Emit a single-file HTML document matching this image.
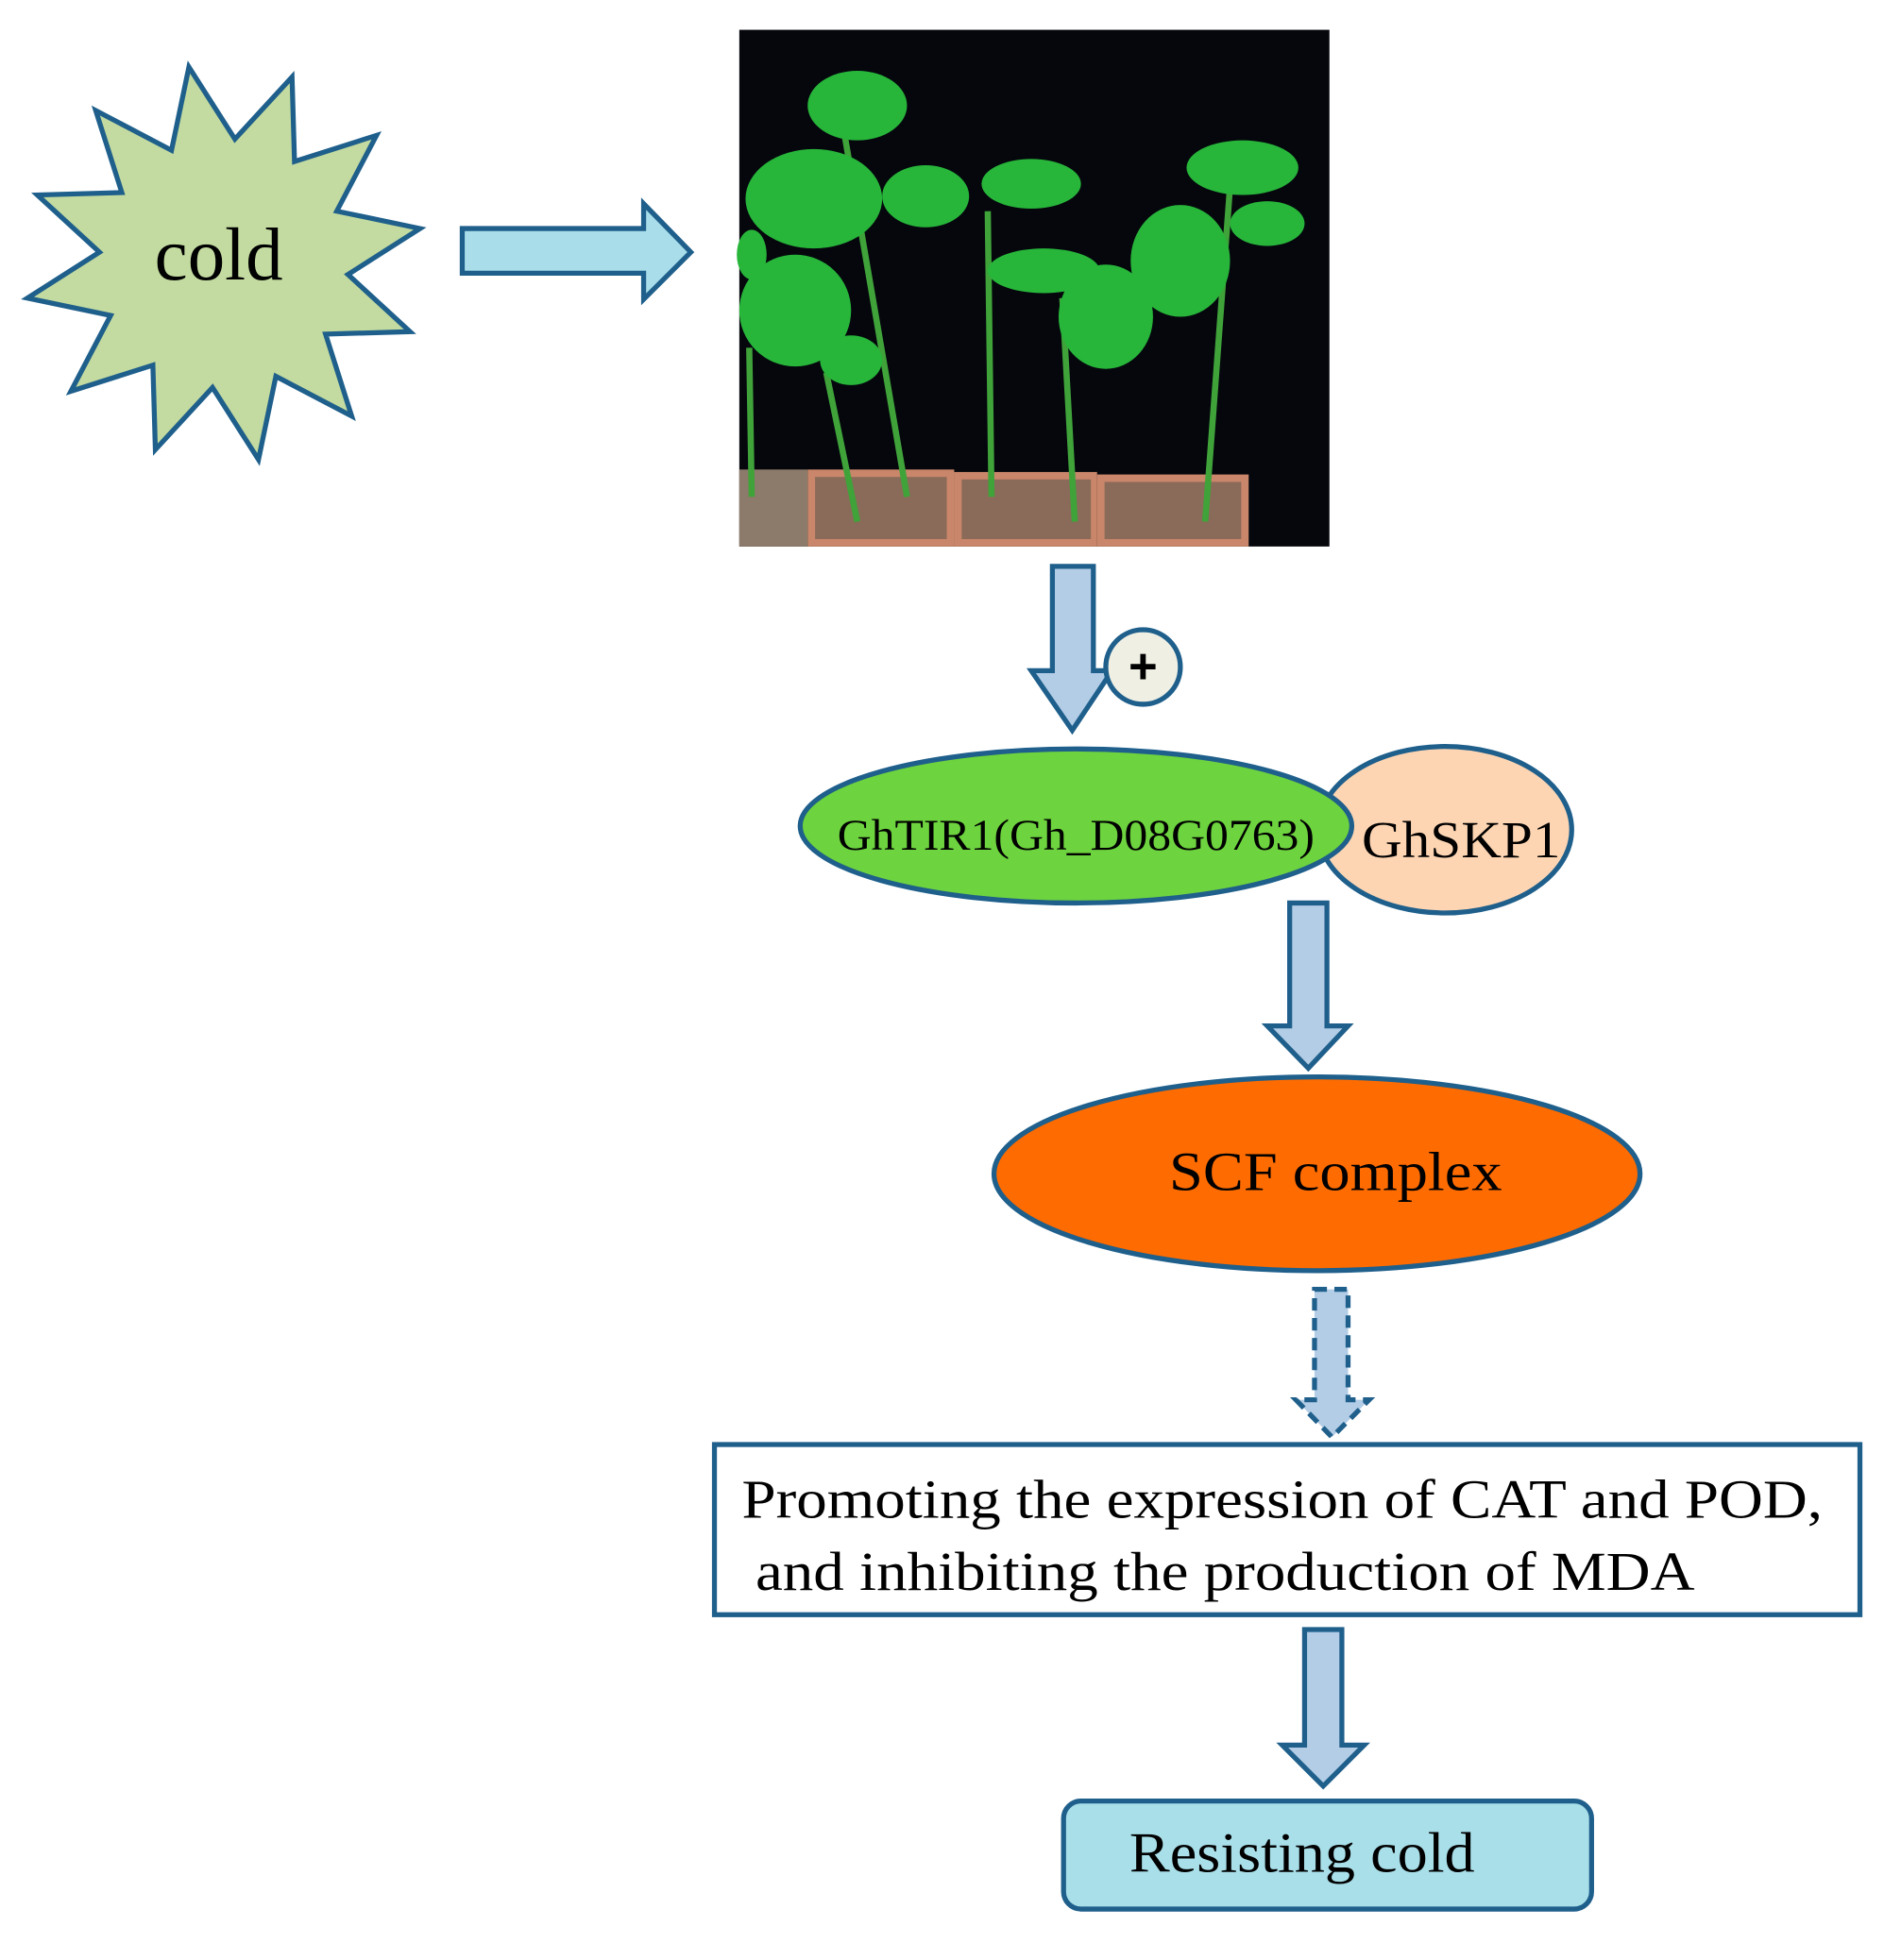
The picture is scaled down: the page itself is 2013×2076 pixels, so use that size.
<!DOCTYPE html>
<html><head><meta charset="utf-8"><style>html,body{margin:0;padding:0;background:#fff}svg{display:block}</style></head>
<body>
<svg width="2013" height="2076" viewBox="0 0 1530 1578" xmlns="http://www.w3.org/2000/svg" font-family="Liberation Serif, serif">
<polygon points="235,62 237,130 303,109 271,170 338,184 280,221 330,267 262,269 283,335 222,303 208,370 171,312 125,362 123,294 57,315 89,254 22,240 80,203 30,157 98,155 77,89 138,121 152,54 189,112" fill="#c3dba0" stroke="#1f5f8b" stroke-width="4" stroke-linejoin="miter"/>
<text x="176" y="225" font-size="60" text-anchor="middle">cold</text>
<polygon points="372,184 518,184 518,164 556,203 518,241 518,220 372,220" fill="#a9dde9" stroke="#1f5f8b" stroke-width="4"/>
<rect x="595" y="24" width="475" height="416" fill="#05070d"/>
<g fill="#c9866a"><rect x="650" y="378" width="118" height="62"/><rect x="768" y="380" width="115" height="60"/><rect x="883" y="382" width="122" height="58"/><rect x="595" y="378" width="55" height="62" fill="#8c7a6a"/></g>
<g fill="#8a6a58"><rect x="656" y="384" width="106" height="50"/><rect x="774" y="386" width="104" height="48"/><rect x="889" y="388" width="110" height="46"/></g>
<g stroke="#3fa33a" stroke-width="5" fill="none"><path d="M680,110 L730,400"/><path d="M665,300 L690,420"/><path d="M795,170 L798,400"/><path d="M855,240 L865,420"/><path d="M990,150 L970,420"/><path d="M603,280 L605,400"/></g>
<g fill="#27b53a"><ellipse cx="690" cy="85" rx="40" ry="28"/><ellipse cx="655" cy="160" rx="55" ry="40"/><ellipse cx="745" cy="158" rx="35" ry="25"/><ellipse cx="640" cy="250" rx="45" ry="45"/><ellipse cx="685" cy="290" rx="25" ry="20"/><ellipse cx="830" cy="148" rx="40" ry="20"/><ellipse cx="840" cy="218" rx="45" ry="18"/><ellipse cx="890" cy="255" rx="38" ry="42"/><ellipse cx="1000" cy="135" rx="45" ry="22"/><ellipse cx="950" cy="210" rx="40" ry="45"/><ellipse cx="1020" cy="180" rx="30" ry="18"/><ellipse cx="605" cy="205" rx="12" ry="20"/></g>
<polygon points="847,456 880,456 880,540 895,540 863,588 830,540 847,540" fill="#b3cde6" stroke="#1f5f8b" stroke-width="4"/>
<circle cx="920" cy="537" r="30" fill="#efefe4" stroke="#1f5f8b" stroke-width="4"/>
<text x="920" y="550" font-size="40" font-weight="bold" text-anchor="middle" font-family="Liberation Sans, sans-serif">+</text>
<ellipse cx="1163" cy="668" rx="102" ry="67" fill="#fdd5b3" stroke="#1f5f8b" stroke-width="4"/>
<ellipse cx="866" cy="665" rx="222" ry="62" fill="#6dd33e" stroke="#1f5f8b" stroke-width="4"/>
<text x="866" y="684" font-size="35" text-anchor="middle" textLength="384" lengthAdjust="spacingAndGlyphs">GhTIR1(Gh_D08G0763)</text>
<text x="1176" y="690" font-size="42" text-anchor="middle" textLength="160" lengthAdjust="spacingAndGlyphs">GhSKP1</text>
<polygon points="1038,727 1068,727 1068,826 1085,826 1053,860 1020,826 1038,826" fill="#b3cde6" stroke="#1f5f8b" stroke-width="4"/>
<ellipse cx="1060" cy="945" rx="260" ry="78" fill="#fe6b00" stroke="#1f5f8b" stroke-width="4"/>
<text x="1075" y="958" font-size="44" text-anchor="middle" textLength="268" lengthAdjust="spacingAndGlyphs">SCF complex</text>
<polygon points="1058,1038 1085,1038 1085,1127 1102,1127 1072,1157 1043,1127 1058,1127" fill="#b3cde6" stroke="#1f5f8b" stroke-width="4" stroke-dasharray="10,6"/>
<rect x="575" y="1163" width="922" height="137" fill="#fff" stroke="#1f5f8b" stroke-width="4"/>
<text x="597" y="1222" font-size="44" textLength="870" lengthAdjust="spacingAndGlyphs">Promoting the expression of CAT and POD,</text>
<text x="608" y="1280" font-size="44" textLength="756" lengthAdjust="spacingAndGlyphs">and inhibiting the production of MDA</text>
<polygon points="1050,1312 1080,1312 1080,1405 1098,1405 1065,1438 1032,1405 1050,1405" fill="#b3cde6" stroke="#1f5f8b" stroke-width="4"/>
<rect x="856" y="1450" width="425" height="87" rx="14" fill="#a9dfe9" stroke="#1f5f8b" stroke-width="4"/>
<text x="1048" y="1507" font-size="46" text-anchor="middle" textLength="278" lengthAdjust="spacingAndGlyphs">Resisting cold</text>
</svg>
</body></html>
